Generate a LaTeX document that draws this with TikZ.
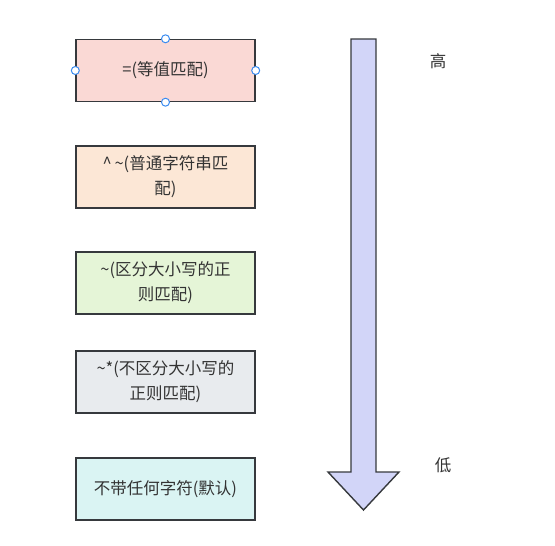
\documentclass[tikz,border=0pt]{standalone}
\usepackage{fontspec}
\setmainfont{Noto Sans CJK SC}
\definecolor{borde}{HTML}{36393D}
\definecolor{texto}{HTML}{333333}
\definecolor{rojo}{HTML}{FAD9D5}
\definecolor{naranja}{HTML}{FCE7D6}
\definecolor{verde}{HTML}{E5F5D7}
\definecolor{gris}{HTML}{E8EBEE}
\definecolor{cian}{HTML}{DAF4F3}
\definecolor{lila}{HTML}{D2D5F8}
\definecolor{azul}{HTML}{3C8CF0}
\tikzset{
  caja/.style={draw=borde, line width=1.4pt, minimum width=179pt, minimum height=62pt,
    text width=172pt, align=center, font=\fontsize{16.5}{25}\selectfont, text=texto, inner sep=0pt},
  asa/.style={circle, draw=azul, fill=white, line width=1pt, minimum size=8pt, inner sep=0pt},
  nivel/.style={font=\fontsize{16.5}{20}\selectfont, text=texto}
}
\begin{document}
\begin{tikzpicture}[x=1pt,y=-1pt]
\useasboundingbox (0,0) rectangle (555,546);

% Cajas de prioridad
\node[caja, fill=rojo] (igual) at (165.5,70.5) {=(等值匹配)};
\node[caja, fill=naranja] (prefijo) at (165.5,177) {\^{}\,\textasciitilde(普通字符串匹\\配)};
\node[caja, fill=verde] (regex) at (165.5,283) {\textasciitilde(区分大小写的正\\则匹配)};
\node[caja, fill=gris] (regexi) at (165.5,382) {\textasciitilde*(不区分大小写的\\正则匹配)};
\node[caja, fill=cian] (defecto) at (165.5,489) {不带任何字符(默认)};

% Asas de seleccion
\node[asa] at (igual.north) {};
\node[asa] at (igual.south) {};
\node[asa] at (igual.west) {};
\node[asa] at (igual.east) {};

% Flecha de prioridad
\draw[draw=borde, fill=lila, line width=1.4pt, line join=miter]
  (351,39) -- (376,39) -- (376,472) -- (399,472) -- (363.5,510)
  -- (328,472) -- (351,472) -- cycle;

% Etiquetas
\node[nivel] (alto) at (438,61) {高};
\node[nivel] (bajo) at (443,465) {低};

\end{tikzpicture}
\end{document}
